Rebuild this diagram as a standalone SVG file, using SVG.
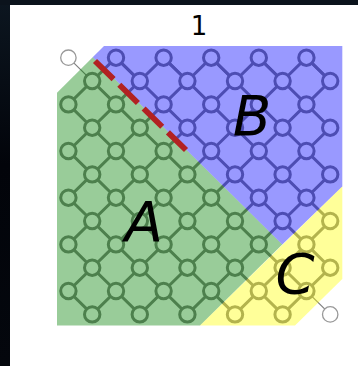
<svg xmlns="http://www.w3.org/2000/svg" width="358" height="366" viewBox="0 0 358 366">
<style>
.e{stroke:#808080;stroke-width:3;fill:none}
.t{stroke:#808080;stroke-width:1.1;fill:none}
.n use{fill:#fff;stroke:#808080;stroke-width:3}
.g use{fill:#fff;stroke:#999;stroke-width:1.3}
.r{fill-opacity:.4}
.l{font-family:"DejaVu Sans",sans-serif;font-style:oblique;font-size:56px;fill:#000;text-anchor:middle}
</style>
<defs>
<linearGradient id="s" x1="0" y1="0" x2="0" y2="1"><stop offset="0" stop-color="#0c1620"/><stop offset=".45" stop-color="#02040a"/><stop offset="1" stop-color="#04070d"/></linearGradient>
<circle id="c" r="7.7"/>
</defs>
<rect width="358" height="366" fill="#fff"/>
<rect width="10" height="366" fill="url(#s)"/>
<rect width="358" height="5" fill="#0b131c"/>
<g id="connectors">
<path class="e" d="M68.4 104.4L92.2 81L116 57.7L139.8 81L163.6 57.7L187.4 81L211.2 57.7L235 81L258.8 57.7L282.6 81L306.4 57.7L330.2 81"/>
<path class="e" d="M68.4 151L92.2 127.7L116 104.4L139.8 81M163.6 104.4L187.4 81M211.2 104.4L235 81M258.8 104.4L282.6 81M306.4 104.4L330.2 81"/>
<path class="e" d="M68.4 197.7L92.2 174.4L116 151L139.8 127.7L163.6 104.4M163.6 151L187.4 127.7L211.2 104.4M211.2 151L235 127.7L258.8 104.4M258.8 151L282.6 127.7L306.4 104.4M306.4 151L330.2 127.7"/>
<path class="e" d="M68.4 244.4L92.2 221L116 197.7L139.8 174.4L163.6 151M163.6 197.7L187.4 174.4L211.2 151M211.2 197.7L235 174.4L258.8 151M258.8 197.7L282.6 174.4L306.4 151M306.4 197.7L330.2 174.4"/>
<path class="e" d="M68.4 291L92.2 267.7L116 244.4L139.8 221L163.6 197.7M163.6 244.4L187.4 221L211.2 197.7M211.2 244.4L235 221L258.8 197.7M258.8 244.4L282.6 221L306.4 197.7M306.4 244.4L330.2 221"/>
<path class="e" d="M92.2 314.4L116 291L139.8 267.7L163.6 244.4M139.8 314.4L163.6 291L187.4 267.7L211.2 244.4M187.4 314.4L211.2 291L235 267.7L258.8 244.4M235 314.4L258.8 291L282.6 267.7L306.4 244.4M282.6 314.4L306.4 291L330.2 267.7"/>
<path class="e" d="M68.4 104.4L92.2 127.7L116 151L139.8 174.4L163.6 197.7L187.4 221L211.2 244.4L235 267.7L258.8 291L282.6 314.4"/>
<path class="e" d="M92.2 81L116 104.4L139.8 127.7L163.6 151L187.4 174.4L211.2 197.7L235 221L258.8 244.4L282.6 267.7L306.4 291"/>
<path class="e" d="M116 57.7L139.8 81L163.6 104.4L187.4 127.7L211.2 151L235 174.4L258.8 197.7L282.6 221L306.4 244.4L330.2 267.7"/>
<path class="e" d="M163.6 57.7L187.4 81L211.2 104.4L235 127.7L258.8 151L282.6 174.4L306.4 197.7L330.2 221"/>
<path class="e" d="M211.2 57.7L235 81L258.8 104.4L282.6 127.7L306.4 151L330.2 174.4"/>
<path class="e" d="M258.8 57.7L282.6 81L306.4 104.4L330.2 127.7"/>
<path class="e" d="M306.4 57.7L330.2 81"/>
<path class="e" d="M68.4 151L92.2 174.4L116 197.7L139.8 221L163.6 244.4L187.4 267.7L211.2 291L235 314.4"/>
<path class="e" d="M68.4 197.7L92.2 221L116 244.4L139.8 267.7L163.6 291L187.4 314.4"/>
<path class="e" d="M68.4 244.4L92.2 267.7L116 291L139.8 314.4"/>
<path class="e" d="M68.4 291L92.2 314.4"/>
<path class="t" d="M68.4 57.7L92.2 81M306.4 291L330.2 314.4"/>
</g>
<g id="nodes" class="n">
<g id="n-1-1"><use href="#c" x="92.2" y="81"/></g>
<g id="n-2-0"><use href="#c" x="116" y="57.7"/></g>
<g id="n-4-0"><use href="#c" x="163.6" y="57.7"/></g>
<g id="n-6-0"><use href="#c" x="211.2" y="57.7"/></g>
<g id="n-8-0"><use href="#c" x="258.8" y="57.7"/></g>
<g id="n-10-0"><use href="#c" x="306.4" y="57.7"/></g>
<g id="n-3-1"><use href="#c" x="139.8" y="81"/></g>
<g id="n-5-1"><use href="#c" x="187.4" y="81"/></g>
<g id="n-7-1"><use href="#c" x="235" y="81"/></g>
<g id="n-9-1"><use href="#c" x="282.6" y="81"/></g>
<g id="n-11-1"><use href="#c" x="330.2" y="81"/></g>
<g id="n-0-2"><use href="#c" x="68.4" y="104.4"/></g>
<g id="n-2-2"><use href="#c" x="116" y="104.4"/></g>
<g id="n-4-2"><use href="#c" x="163.6" y="104.4"/></g>
<g id="n-6-2"><use href="#c" x="211.2" y="104.4"/></g>
<g id="n-8-2"><use href="#c" x="258.8" y="104.4"/></g>
<g id="n-10-2"><use href="#c" x="306.4" y="104.4"/></g>
<g id="n-1-3"><use href="#c" x="92.2" y="127.7"/></g>
<g id="n-3-3"><use href="#c" x="139.8" y="127.7"/></g>
<g id="n-5-3"><use href="#c" x="187.4" y="127.7"/></g>
<g id="n-7-3"><use href="#c" x="235" y="127.7"/></g>
<g id="n-9-3"><use href="#c" x="282.6" y="127.7"/></g>
<g id="n-11-3"><use href="#c" x="330.2" y="127.7"/></g>
<g id="n-0-4"><use href="#c" x="68.4" y="151"/></g>
<g id="n-2-4"><use href="#c" x="116" y="151"/></g>
<g id="n-4-4"><use href="#c" x="163.6" y="151"/></g>
<g id="n-6-4"><use href="#c" x="211.2" y="151"/></g>
<g id="n-8-4"><use href="#c" x="258.8" y="151"/></g>
<g id="n-10-4"><use href="#c" x="306.4" y="151"/></g>
<g id="n-1-5"><use href="#c" x="92.2" y="174.4"/></g>
<g id="n-3-5"><use href="#c" x="139.8" y="174.4"/></g>
<g id="n-5-5"><use href="#c" x="187.4" y="174.4"/></g>
<g id="n-7-5"><use href="#c" x="235" y="174.4"/></g>
<g id="n-9-5"><use href="#c" x="282.6" y="174.4"/></g>
<g id="n-11-5"><use href="#c" x="330.2" y="174.4"/></g>
<g id="n-0-6"><use href="#c" x="68.4" y="197.7"/></g>
<g id="n-2-6"><use href="#c" x="116" y="197.7"/></g>
<g id="n-4-6"><use href="#c" x="163.6" y="197.7"/></g>
<g id="n-6-6"><use href="#c" x="211.2" y="197.7"/></g>
<g id="n-8-6"><use href="#c" x="258.8" y="197.7"/></g>
<g id="n-10-6"><use href="#c" x="306.4" y="197.7"/></g>
<g id="n-1-7"><use href="#c" x="92.2" y="221"/></g>
<g id="n-3-7"><use href="#c" x="139.8" y="221"/></g>
<g id="n-5-7"><use href="#c" x="187.4" y="221"/></g>
<g id="n-7-7"><use href="#c" x="235" y="221"/></g>
<g id="n-9-7"><use href="#c" x="282.6" y="221"/></g>
<g id="n-11-7"><use href="#c" x="330.2" y="221"/></g>
<g id="n-0-8"><use href="#c" x="68.4" y="244.4"/></g>
<g id="n-2-8"><use href="#c" x="116" y="244.4"/></g>
<g id="n-4-8"><use href="#c" x="163.6" y="244.4"/></g>
<g id="n-6-8"><use href="#c" x="211.2" y="244.4"/></g>
<g id="n-8-8"><use href="#c" x="258.8" y="244.4"/></g>
<g id="n-10-8"><use href="#c" x="306.4" y="244.4"/></g>
<g id="n-1-9"><use href="#c" x="92.2" y="267.7"/></g>
<g id="n-3-9"><use href="#c" x="139.8" y="267.7"/></g>
<g id="n-5-9"><use href="#c" x="187.4" y="267.7"/></g>
<g id="n-7-9"><use href="#c" x="235" y="267.7"/></g>
<g id="n-9-9"><use href="#c" x="282.6" y="267.7"/></g>
<g id="n-11-9"><use href="#c" x="330.2" y="267.7"/></g>
<g id="n-0-10"><use href="#c" x="68.4" y="291"/></g>
<g id="n-2-10"><use href="#c" x="116" y="291"/></g>
<g id="n-4-10"><use href="#c" x="163.6" y="291"/></g>
<g id="n-6-10"><use href="#c" x="211.2" y="291"/></g>
<g id="n-8-10"><use href="#c" x="258.8" y="291"/></g>
<g id="n-10-10"><use href="#c" x="306.4" y="291"/></g>
<g id="n-1-11"><use href="#c" x="92.2" y="314.4"/></g>
<g id="n-3-11"><use href="#c" x="139.8" y="314.4"/></g>
<g id="n-5-11"><use href="#c" x="187.4" y="314.4"/></g>
<g id="n-7-11"><use href="#c" x="235" y="314.4"/></g>
<g id="n-9-11"><use href="#c" x="282.6" y="314.4"/></g>
</g>
<g id="corners" class="g">
<g id="corner-tl"><use href="#c" x="68.4" y="57.7"/></g>
<g id="corner-br"><use href="#c" x="330.2" y="314.4"/></g>
</g>
<polygon class="r" fill="#008000" points="57,92.7 92.7,57.3 282.3,244.5 200,325.4 57,325.4"/>
<polygon class="r" fill="#0000ff" points="92.7,57.3 104,46 342.3,46 342.3,186.5 282.3,244.5"/>
<polygon class="r" fill="#ffff00" points="342.3,186.5 342.3,279 295,325.4 200,325.4"/>
<path d="M95 61L186 150" stroke="#b22222" stroke-width="5.8" stroke-dasharray="26 8" fill="none"/>
<text x="199" y="34.5" font-family="DejaVu Sans,sans-serif" font-size="26" text-anchor="middle">1</text>
<text class="l" x="144" y="241">A</text>
<text class="l" x="252" y="135">B</text>
<text class="l" x="295" y="293">C</text>
</svg>
